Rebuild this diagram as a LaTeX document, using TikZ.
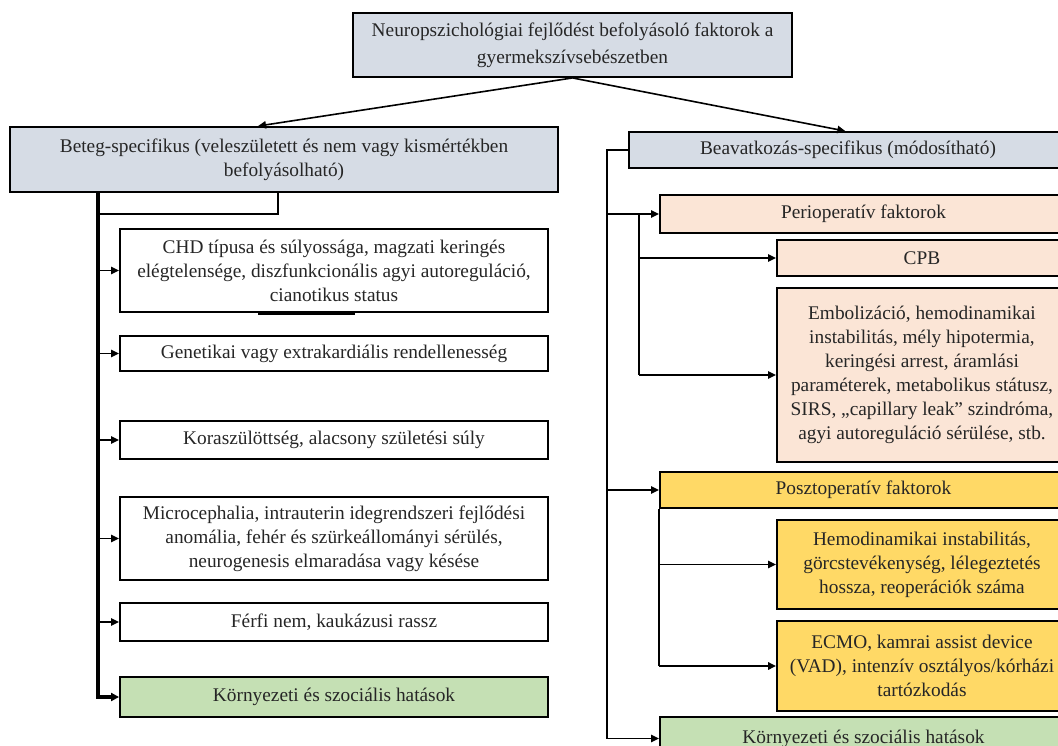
\documentclass[tikz,border=0pt]{standalone}
\usepackage{fontspec}
\setmainfont{Liberation Serif}
\usetikzlibrary{arrows.meta,calc}
\definecolor{hdr}{HTML}{D6DCE5}
\definecolor{peri}{HTML}{FBE5D6}
\definecolor{poszt}{HTML}{FFD966}
\definecolor{envg}{HTML}{C5E0B4}
\begin{document}
\begin{tikzpicture}[x=0.75pt,y=-0.75pt,
 box/.style={draw=black, line width=1.4pt, align=center, inner sep=2pt, font=\fontsize{14.5}{18}\selectfont, text=black!85},
 conn/.style={line width=1.2pt},
 arr/.style={line width=1.2pt, -{Triangle[length=6pt,width=5.5pt]}},
 trunk/.style={line width=3pt, -{Triangle[length=6pt,width=6pt]}}]
\useasboundingbox (0,0) rectangle (1058,746);
\clip (0,0) rectangle (1058,746);
\fill[white] (0,0) rectangle (1058,746);
% top
\node[box, fill=hdr, minimum width=329.25pt, minimum height=48pt, font=\fontsize{14.5}{20}\selectfont] (T) at (572.5,45) {Neuropszichológiai fejlődést befolyásoló faktorok a\\gyermekszívsebészetben};
% left column
\node[box, fill=hdr, minimum width=411pt, minimum height=48.75pt] (L) at (284,159.5) {Beteg-specifikus (veleszületett és nem vagy kismértékben\\befolyásolható)};
\node[box, fill=white, minimum width=321pt, minimum height=62.25pt] (B1) at (334,270.5) {CHD típusa és súlyossága, magzati keringés\\elégtelensége, diszfunkcionális agyi autoreguláció,\\cianotikus status};
\node[box, fill=white, minimum width=321pt, minimum height=26.25pt] (B2) at (334,353.5) {Genetikai vagy extrakardiális rendellenesség};
\node[box, fill=white, minimum width=321pt, minimum height=28.5pt] (B3) at (334,440) {Koraszülöttség, alacsony születési súly};
\node[box, fill=white, minimum width=321pt, minimum height=62.25pt] (B4) at (334,538.5) {Microcephalia, intrauterin idegrendszeri fejlődési\\anomália, fehér és szürkeállományi sérülés,\\neurogenesis elmaradása vagy késése};
\node[box, fill=white, minimum width=321pt, minimum height=28.5pt] (B5) at (334,622) {Férfi nem, kaukázusi rassz};
\node[box, fill=envg, minimum width=321pt, minimum height=30pt] (B6) at (334,697) {Környezeti és szociális hatások};
% right column
\node[box, fill=hdr, minimum width=328.5pt, minimum height=27pt] (R) at (848,150) {Beavatkozás-specifikus (módosítható)};
\node[box, fill=peri, minimum width=305.25pt, minimum height=28.5pt] (P) at (863.5,214) {Perioperatív faktorok};
\node[box, fill=peri, minimum width=217.5pt, minimum height=27pt] (C) at (922,258) {CPB};
\node[box, fill=peri, minimum width=217.5pt, minimum height=130.5pt] (E) at (922,375) {Embolizáció, hemodinamikai\\instabilitás, mély hipotermia,\\keringési arrest, áramlási\\paraméterek, metabolikus státusz,\\SIRS, „capillary leak” szindróma,\\agyi autoreguláció sérülése, stb.};
\node[box, fill=poszt, minimum width=305.25pt, minimum height=27pt] (Q) at (863.5,490) {Posztoperatív faktorok};
\node[box, fill=poszt, minimum width=217.5pt, minimum height=66.75pt] (H) at (922,564.5) {Hemodinamikai instabilitás,\\görcstevékenység, lélegeztetés\\hossza, reoperációk száma};
\node[box, fill=poszt, minimum width=217.5pt, minimum height=67.5pt] (M) at (922,666) {ECMO, kamrai assist device\\(VAD), intenzív osztályos/kórházi\\tartózkodás};
\node[box, fill=envg, minimum width=305.25pt, minimum height=32.25pt] (K2) at (863.5,738.5) {Környezeti és szociális hatások};
% helper coordinates
\coordinate (lt) at (98,0);
\coordinate (rt) at (607,0);
\coordinate (pt) at (639,0);
\coordinate (u1) at (258,313.5);
\coordinate (u2) at (355,313.5);
% top connectors
\draw[arr] (T.south) -- ([xshift=-19.5pt]L.north);
\draw[arr] (T.south) -- ([xshift=-2pt]R.north);
% left connectors
\draw[conn, line width=1.6pt] (L.south -| lt) -- ++(0,21) -| ([xshift=-4.5pt]L.south);
\draw[trunk] (L.south -| lt) |- (B6.west);
\foreach \b in {B1,B2,B3,B4,B5}{
  \draw[arr] (\b.west -| lt) -- (\b.west);
}
\draw[line width=2pt] (u1) -- (u2);
% right connectors
\draw[conn] (R.west) -| (K2.west -| rt);
\draw[arr] (K2.west -| rt) -- (K2.west);
\draw[arr] (P.west -| rt) -- (P.west);
\draw[arr] (Q.west -| rt) -- (Q.west);
\draw[conn] (P.west -| pt) -- (E.west -| pt);
\draw[arr] (C.west -| pt) -- (C.west);
\draw[arr] (E.west -| pt) -- (E.west);
\draw[conn, line width=1.6pt] (Q.south west) -- (M.west -| Q.south west);
\draw[arr] (H.west -| Q.south west) -- (H.west);
\draw[arr, line width=1.8pt] (M.west -| Q.south west) -- (M.west);
\end{tikzpicture}
\end{document}
